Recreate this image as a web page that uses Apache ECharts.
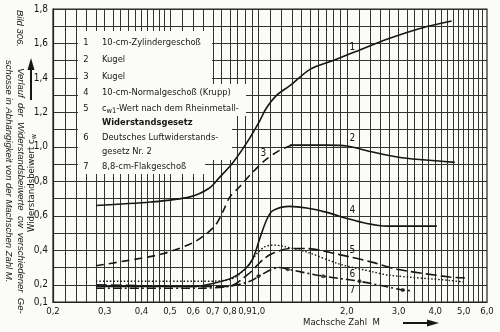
<!DOCTYPE html>
<html>
<head>
<meta charset="utf-8">
<script src="https://cdn.jsdelivr.net/npm/echarts@6/dist/echarts.min.js"></script>
<style>
html,body{margin:0;padding:0;background:#fbfbf8;}
#main{width:500px;height:332px;}
</style>
</head>
<body>
<div id="main"></div>
<script>
var zylinderMach = [0.28, 0.43, 0.585, 0.68, 0.735, 0.82, 0.91, 1.01, 1.06, 1.155, 1.28, 1.5, 1.79, 2.05, 2.8, 3.6, 4.55];
var zylinderCw   = [0.66, 0.68, 0.71, 0.76, 0.82, 0.91, 1.02, 1.15, 1.22, 1.30, 1.355, 1.45, 1.50, 1.54, 1.63, 1.69, 1.73];

var kugelMach = [1.28, 1.72, 2.0, 2.45, 3.0, 3.63, 4.66];
var kugelCw   = [1.01, 1.01, 1.005, 0.97, 0.94, 0.925, 0.91];

var kugel3Mach = [0.28, 0.357, 0.473, 0.608, 0.71, 0.76, 0.80, 0.865, 0.935, 1.05, 1.18, 1.30];
var kugel3Cw   = [0.31, 0.34, 0.38, 0.45, 0.54, 0.63, 0.71, 0.77, 0.835, 0.92, 0.98, 1.01];

var normalMach = [0.28, 0.608, 0.711, 0.813, 0.90, 0.957, 1.012, 1.069, 1.12, 1.28, 1.46, 1.71, 2.0, 2.34, 2.74, 3.35, 4.05];
var normalCw   = [0.19, 0.19, 0.21, 0.24, 0.29, 0.35, 0.47, 0.58, 0.63, 0.655, 0.645, 0.62, 0.585, 0.555, 0.54, 0.54, 0.54];

var rheinMach = [0.28, 0.632, 0.787, 0.921, 1.028, 1.112, 1.28, 1.46, 1.89, 2.45, 2.96, 4.48, 5.04];
var rheinCw   = [0.20, 0.19, 0.19, 0.26, 0.34, 0.38, 0.41, 0.41, 0.375, 0.33, 0.29, 0.245, 0.24];

var luftMach = [0.28, 0.632, 0.80, 0.90, 0.988, 1.05, 1.12, 1.2, 1.46, 1.89, 2.45, 2.8, 4.48, 5.04];
var luftCw   = [0.22, 0.22, 0.23, 0.29, 0.38, 0.42, 0.43, 0.425, 0.39, 0.32, 0.275, 0.255, 0.225, 0.215];

var flakMach = [0.28, 0.632, 0.787, 0.935, 1.028, 1.112, 1.18, 1.26, 1.66, 2.21, 3.10, 3.33];
var flakCw   = [0.18, 0.18, 0.19, 0.22, 0.26, 0.29, 0.30, 0.29, 0.25, 0.22, 0.17, 0.165];

// Punkte auf Kurve 7
var flakDotMach = [1.0, 1.26, 1.66, 2.21, 3.10];
var flakDotCw   = [0.25, 0.29, 0.25, 0.22, 0.17];

// Kurvennummern
var numText = ['1', '2', '3', '4', '5', '6', '7'];
var numMach = [2.09, 2.09, 1.04, 2.09, 2.09, 2.09, 2.09];
var numCw   = [1.58, 1.05, 0.96, 0.63, 0.40, 0.26, 0.165];

// Achsbeschriftung und Netz
var machLabels = [0.2, 0.3, 0.4, 0.5, 0.6, 0.7, 0.8, 0.9, 1.0, 2.0, 3.0, 4.0, 5.0, 6.0];
var machGrid = [0.22, 0.24, 0.26, 0.28, 0.30, 0.32, 0.34, 0.36, 0.38, 0.40, 0.42, 0.44, 0.46, 0.48,
    0.50, 0.55, 0.60, 0.65, 0.70, 0.75, 0.80, 0.85, 0.90, 0.95,
    1.0, 1.1, 1.2, 1.3, 1.4, 1.5, 1.6, 1.7, 1.8, 1.9,
    2.0, 2.2, 2.4, 2.6, 2.8, 3.0, 3.2, 3.4, 3.6, 3.8, 4.0, 4.2, 4.4, 4.6, 4.8, 5.0, 5.2, 5.4, 5.6, 5.8];

var legendRows = [
    ['1', '10-cm-Zylindergeschoß'],
    ['2', 'Kugel'],
    ['3', 'Kugel'],
    ['4', '10-cm-Normalgeschoß (Krupp)'],
    ['5', '{t|c}{s|w1}{t|-Wert nach dem Rheinmetall-}'],
    ['', '{b|Widerstandsgesetz}'],
    ['6', 'Deutsches Luftwiderstands-'],
    ['', 'gesetz Nr. 2'],
    ['7', '8,8-cm-Flakgeschoß']
];
var legendY = [43, 60, 77, 93, 109, 123, 138, 152, 167];

var FONT = '"DejaVu Sans Condensed", "Liberation Sans", sans-serif';
var INK = '#161616';
var FS = 9.3;

function pairs(xs, ys) {
    var out = [];
    for (var i = 0; i < xs.length; i++) out.push([xs[i], ys[i]]);
    return out;
}
function komma(v) {
    return v.toFixed(1).replace('.', ',');
}

function curve(name, xs, ys, type, width) {
    return {
        name: name,
        type: 'line',
        data: pairs(xs, ys),
        smooth: 0.3,
        symbol: 'none',
        z: 60,
        lineStyle: {color: INK, width: width || 1.6, type: type}
    };
}

var chart = echarts.init(document.getElementById('main'));

var graphics = [];
// weisses Feld fuer die Legende
graphics.push({
    type: 'polygon', z: 50,
    shape: {points: [[78, 31], [212, 31], [212, 84], [246, 84], [246, 116], [232, 116], [232, 160], [205, 160], [205, 174], [78, 174]]},
    style: {fill: '#fbfbf8'}
});
for (var i = 0; i < legendRows.length; i++) {
    graphics.push({
        type: 'text', z: 51, x: 86, y: legendY[i],
        style: {text: legendRows[i][0], fontSize: FS, fontFamily: FONT, fill: INK, textAlign: 'center', textVerticalAlign: 'middle'}
    });
    graphics.push({
        type: 'text', z: 51, x: 102, y: legendY[i],
        style: {
            text: legendRows[i][1], fontSize: FS, fontFamily: FONT, fill: INK,
            textAlign: 'left', textVerticalAlign: 'middle',
            rich: {
                t: {fontSize: FS, fontFamily: FONT, fill: INK},
                s: {fontSize: 7.5, fontFamily: FONT, fill: INK, padding: [5, 0, 0, 0]},
                b: {fontSize: FS, fontFamily: FONT, fill: INK, fontWeight: 'bold'}
            }
        }
    });
}
// Bildunterschrift links (gedreht)
var capStyle = {fontSize: 9.5, fontStyle: 'italic', fontFamily: '"Liberation Sans", sans-serif', fill: INK, textAlign: 'left', textVerticalAlign: 'middle'};
graphics.push({type: 'text', x: 20, y: 10, rotation: -Math.PI / 2, style: Object.assign({text: 'Bild 306.'}, capStyle)});
graphics.push({type: 'text', x: 21, y: 68, rotation: -Math.PI / 2,
    style: Object.assign({text: 'Verlauf  der  Widerstandsbeiwerte  cw  verschiedener  Ge-'}, capStyle)});
graphics.push({type: 'text', x: 9, y: 60, rotation: -Math.PI / 2,
    style: Object.assign({text: 'schosse in Abhängigkeit von der Machschen Zahl M.'}, capStyle)});
// Achsname y mit Pfeil
graphics.push({type: 'text', x: 32, y: 232, rotation: Math.PI / 2,
    style: {text: 'Widerstandsbeiwert {t|c}{s|w}', fontSize: 9.5, fontFamily: FONT, fill: INK, textAlign: 'left', textVerticalAlign: 'middle',
        rich: {t: {fontSize: 9.5, fontFamily: FONT, fill: INK}, s: {fontSize: 7, fontFamily: FONT, fill: INK, padding: [4, 0, 0, 0]}}}});
graphics.push({type: 'line', shape: {x1: 31, y1: 100, x2: 31, y2: 68}, style: {stroke: INK, lineWidth: 2}});
graphics.push({type: 'polygon', shape: {points: [[31, 58], [27.5, 70], [34.5, 70]]}, style: {fill: INK}});
// Achsname x mit Pfeil
graphics.push({type: 'text', x: 303, y: 323,
    style: {text: 'Machsche Zahl  M', fontSize: 9.5, fontFamily: FONT, fill: INK, textAlign: 'left', textVerticalAlign: 'middle'}});
graphics.push({type: 'line', shape: {x1: 403, y1: 323, x2: 428, y2: 323}, style: {stroke: INK, lineWidth: 2}});
graphics.push({type: 'polygon', shape: {points: [[439, 323], [427, 319.5], [427, 326.5]]}, style: {fill: INK}});

var option = {
    backgroundColor: '#fbfbf8',
    animation: false,
    grid: {left: 53, right: 13, top: 9, bottom: 30, show: true, borderColor: '#222', borderWidth: 1.2},
    xAxis: {
        type: 'log', logBase: 10, min: 0.2, max: 6,
        axisLine: {show: true, lineStyle: {color: '#222', width: 1.2}},
        axisTick: {show: false, customValues: machLabels},
        splitLine: {show: false},
        minorTick: {show: false},
        minorSplitLine: {show: false},
        axisLabel: {
            customValues: machLabels,
            formatter: function (v) { return komma(v); },
            color: INK, fontSize: 9.5, fontFamily: FONT, margin: 5
        }
    },
    yAxis: {
        type: 'value', min: 0.1, max: 1.8, interval: 0.1,
        axisLine: {show: true, lineStyle: {color: '#222', width: 1.2}},
        axisTick: {show: false},
        splitLine: {show: true, lineStyle: {color: '#333', width: 1}},
        axisLabel: {
            formatter: function (v) {
                var t = Math.round(v * 10);
                return (t === 1 || t % 2 === 0) ? komma(t / 10) : '';
            },
            color: INK, fontSize: 10, fontFamily: FONT, margin: 5
        }
    },
    graphic: graphics,
    series: [
        {
            type: 'line', data: [[0.2, 0.1]], symbol: 'none', lineStyle: {width: 0}, z: 1,
            markLine: {
                silent: true, symbol: 'none', label: {show: false}, z: 2,
                lineStyle: {color: '#333', width: 1, type: 'solid'},
                data: machGrid.map(function (m) { return {xAxis: m}; })
            }
        },
        curve('1', zylinderMach, zylinderCw, 'solid'),
        curve('2', kugelMach, kugelCw, 'solid'),
        curve('3', kugel3Mach, kugel3Cw, [8, 5]),
        curve('4', normalMach, normalCw, 'solid'),
        curve('5', rheinMach, rheinCw, [11, 4]),
        curve('6', luftMach, luftCw, [1.5, 2], 1.4),
        curve('7', flakMach, flakCw, [9, 3, 2, 3]),
        {
            type: 'scatter', z: 61, symbol: 'circle', symbolSize: 4,
            itemStyle: {color: INK},
            data: pairs(flakDotMach, flakDotCw)
        },
        {
            type: 'custom', z: 70,
            data: pairs(numMach, numCw),
            renderItem: function (params, api) {
                var p = api.coord([api.value(0), api.value(1)]);
                return {
                    type: 'text', x: p[0], y: p[1],
                    style: {text: numText[params.dataIndex], fill: INK, fontSize: 10, fontFamily: FONT,
                        textAlign: 'center', textVerticalAlign: 'middle'}
                };
            }
        }
    ]
};
chart.setOption(option);
</script>
</body>
</html>
